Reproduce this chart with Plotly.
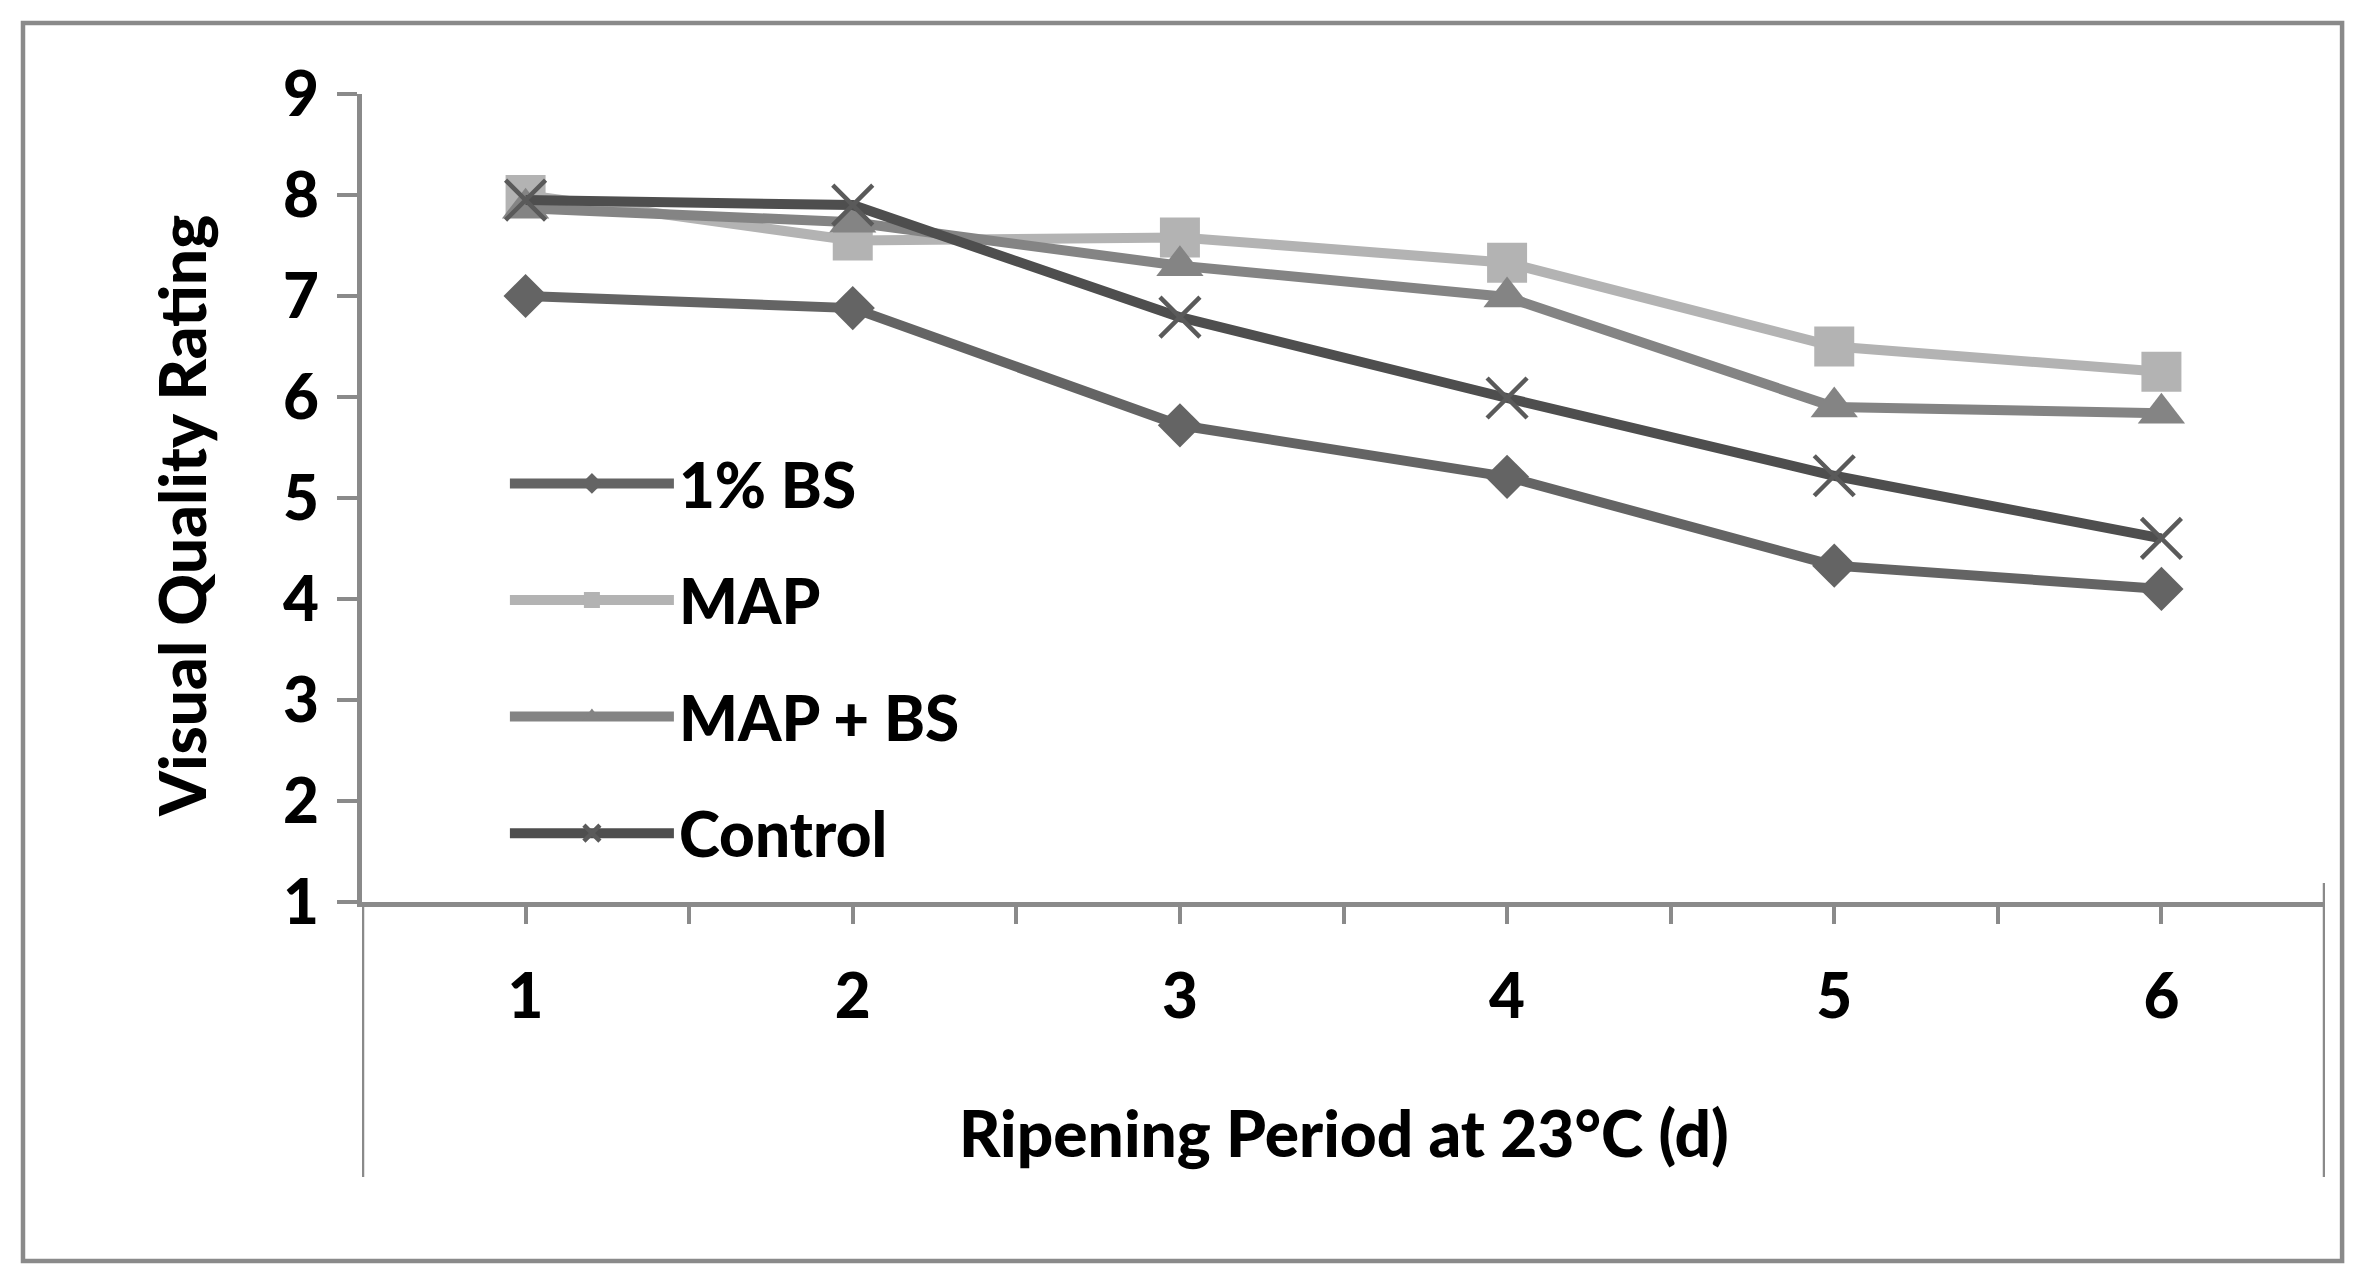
import plotly.graph_objects as go

days = [1, 2, 3, 4, 5, 6]
bs_1pct = [7.0, 6.88, 5.72, 5.21, 4.33, 4.10]
map_only = [8.0, 7.55, 7.58, 7.33, 6.50, 6.25]
map_bs = [7.87, 7.73, 7.30, 6.99, 5.90, 5.84]
control = [7.95, 7.90, 6.79, 5.99, 5.22, 4.60]

series_names = ["1% BS", "MAP", "MAP + BS", "Control"]
y_ticks = [1, 2, 3, 4, 5, 6, 7, 8, 9]
x_tick_vals = [1, 1.5, 2, 2.5, 3, 3.5, 4, 4.5, 5, 5.5, 6]
x_tick_text = ["1", "", "2", "", "3", "", "4", "", "5", "", "6"]

FONT = "Lato"
AXIS_GRAY = "#8a8a8a"
TICK_SIZE = 62
TITLE_SIZE = 64

fig = go.Figure()

styles = [
    dict(color="#646464", symbol="diamond", size=34, mline="#646464", mw=0),
    dict(color="#b3b3b3", symbol="square", size=40, mline="#b3b3b3", mw=0),
    dict(color="#848484", symbol="triangle-up", size=41, mline="#848484", mw=0),
    dict(color="#4e4e4e", symbol="x-thin", size=40, mline="#5a5a5a", mw=4.5),
]
data = [bs_1pct, map_only, map_bs, control]

for name, vals, st in zip(series_names, data, styles):
    fig.add_trace(go.Scatter(
        x=days, y=vals, name=name, mode="lines+markers",
        legendgroup=name,
        line=dict(color=st["color"], width=10),
        marker=dict(symbol=st["symbol"], size=st["size"], color=st["color"],
                    line=dict(color=st["mline"], width=st["mw"])),
    ))

fig.update_layout(
    width=2350, height=1263,
    paper_bgcolor="white", plot_bgcolor="white",
    margin=dict(l=354, r=33, t=86, b=369),
    font=dict(family=FONT, size=TICK_SIZE, color="black", weight=900),
    showlegend=True,
    legend=dict(
        x=0.0728, y=0.576, xanchor="left", yanchor="top",
        bgcolor="rgba(0,0,0,0)",
        font=dict(family=FONT, size=TICK_SIZE, color="black", weight=900),
        itemwidth=164, tracegroupgap=33,
    ),
    xaxis=dict(
        range=[0.5, 6.5], tickmode="array", tickvals=x_tick_vals, ticktext=x_tick_text,
        showline=True, linecolor=AXIS_GRAY, linewidth=4.5,
        ticks="outside", ticklen=17, tickwidth=4, tickcolor=AXIS_GRAY,
        showgrid=False, zeroline=False, ticklabelstandoff=20,
        tickfont=dict(family=FONT, size=TICK_SIZE, color="black", weight=900),
    ),
    xaxis2=dict(
        range=[0.5, 6.5], overlaying="x", anchor="y", side="bottom",
        tickmode="array", tickvals=x_tick_vals, showticklabels=False,
        ticks="inside", ticklen=17, tickwidth=4, tickcolor=AXIS_GRAY,
        showline=False, showgrid=False, zeroline=False,
    ),
    yaxis=dict(
        range=[1, 9], tickmode="array", tickvals=y_ticks,
        showline=True, linecolor=AXIS_GRAY, linewidth=4.5,
        ticks="outside", ticklen=20, tickwidth=4, tickcolor=AXIS_GRAY,
        showgrid=False, zeroline=False, ticklabelstandoff=6,
        tickfont=dict(family=FONT, size=TICK_SIZE, color="black", weight=900),
    ),
)

# axis titles
fig.add_annotation(text="Visual Quality Rating", xref="paper", yref="paper",
                   x=-0.0922, y=0.4777, textangle=-90, showarrow=False,
                   xanchor="center", yanchor="middle",
                   font=dict(family=FONT, size=TITLE_SIZE, color="black", weight=900))
fig.add_annotation(text="Ripening Period at 23°C (d)", xref="paper", yref="paper",
                   x=0.5003, y=-0.2847, showarrow=False,
                   xanchor="center", yanchor="middle",
                   font=dict(family=FONT, size=TITLE_SIZE, color="black", weight=900))

# category-axis side lines and outer chart border
fig.add_shape(type="line", xref="x", yref="paper", x0=0.5, x1=0.5, y0=0, y1=-0.3403,
              line=dict(color=AXIS_GRAY, width=4.5))
fig.add_shape(type="line", xref="x", yref="paper", x0=6.5, x1=6.5, y0=0.0235, y1=-0.3403,
              line=dict(color=AXIS_GRAY, width=4.5))
fig.add_shape(type="rect", xref="paper", yref="paper", x0=-0.1727, x1=1.0087,
              y0=-0.4443, y1=1.0879, line=dict(color=AXIS_GRAY, width=4.5),
              fillcolor="rgba(0,0,0,0)", layer="below")

fig.write_html("out.html")
